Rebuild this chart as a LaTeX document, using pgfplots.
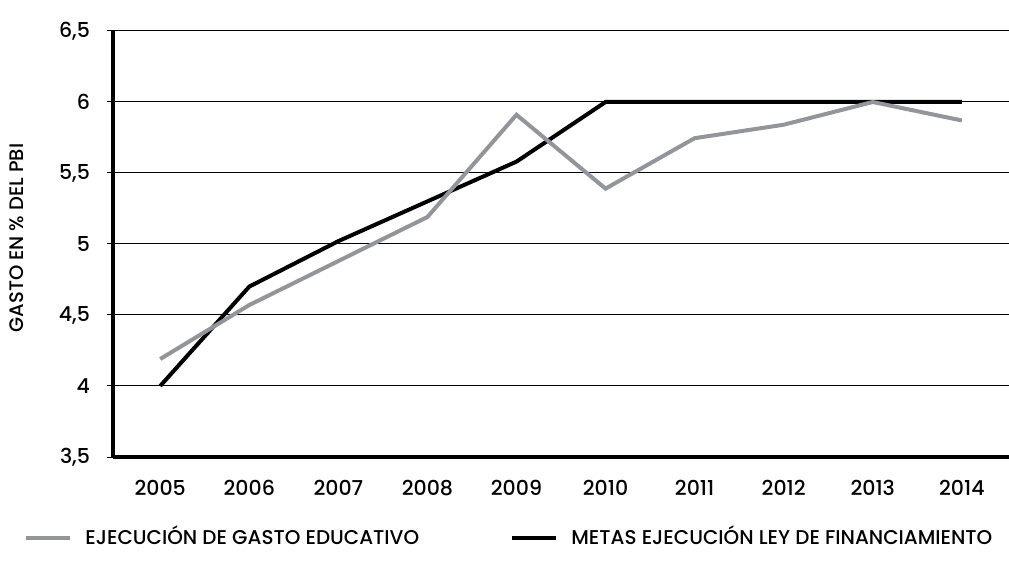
\documentclass[border=0pt]{standalone}
\usepackage{fontspec}
\setmainfont{Poppins}[UprightFont={* Medium}]
\usepackage{pgfplots}
\pgfplotsset{compat=1.18}
\definecolor{lgray}{RGB}{147,149,152}
\begin{document}
\begin{tikzpicture}
\begin{axis}[
  scale only axis,
  width=448bp, height=213bp,
  xmin=-0.53, xmax=9.53,
  ymin=3.5, ymax=6.5,
  axis x line*=bottom,
  axis y line*=left,
  axis line style={line width=2bp, -},
  xtick={0,...,9},
  xticklabels={2005,2006,2007,2008,2009,2010,2011,2012,2013,2014},
  ytick={3.5,4,4.5,5,5.5,6,6.5},
  /pgf/number format/assume math mode=true,
  /pgf/number format/use comma,
  ymajorgrids,
  grid style={line width=0.5bp, black},
  x tick style={draw=none},
  y tick style={line width=0.5bp, black},
  ytick align=outside,
  major tick length=3bp,
  tick label style={font=\fontsize{10.3}{12}\selectfont},
  yticklabel style={xshift=-5bp},
  xticklabel style={yshift=-8bp},
  ylabel={GASTO EN \% DEL PBI},
  every axis y label/.style={at={(axis description cs:-0.1071,0.514)}, rotate=90, anchor=center, font=\fontsize{9.8}{11}\selectfont},
  legend columns=2,
  legend style={at={(axis description cs:0,0)}, anchor=west, xshift=-44.5bp, yshift=-40bp,
    draw=none, fill=none, inner sep=0pt, font=\fontsize{10}{12}\selectfont,
    nodes={inner sep=0pt, anchor=base west},
    /tikz/every odd column/.style={column sep=6.5bp},
    /tikz/every even column/.style={column sep=0pt}},
  legend image code/.code={\draw[#1] (0bp,3.6bp) -- (22bp,3.6bp);},
]
\addlegendimage{lgray, line width=2bp}
\addlegendentry{\makebox[212.5bp][l]{EJECUCIÓN DE GASTO EDUCATIVO}}
\addplot[black, line width=2bp] coordinates {
(0,4.0) (1,4.70) (2,5.02) (3,5.30) (4,5.58) (5,6.0) (6,6.0) (7,6.0) (8,6.0) (9,6.0)};
\addlegendentry{METAS EJECUCIÓN LEY DE FINANCIAMIENTO}
\addplot[lgray, line width=2bp, forget plot] coordinates {
(0,4.19) (1,4.57) (2,4.88) (3,5.19) (4,5.91) (5,5.39) (6,5.745) (7,5.84) (8,6.0) (9,5.87)};
\end{axis}
\pgfresetboundingbox
\path[use as bounding box] (-56.5bp,-55bp) rectangle (448bp,228.5bp);
\end{tikzpicture}
\end{document}
